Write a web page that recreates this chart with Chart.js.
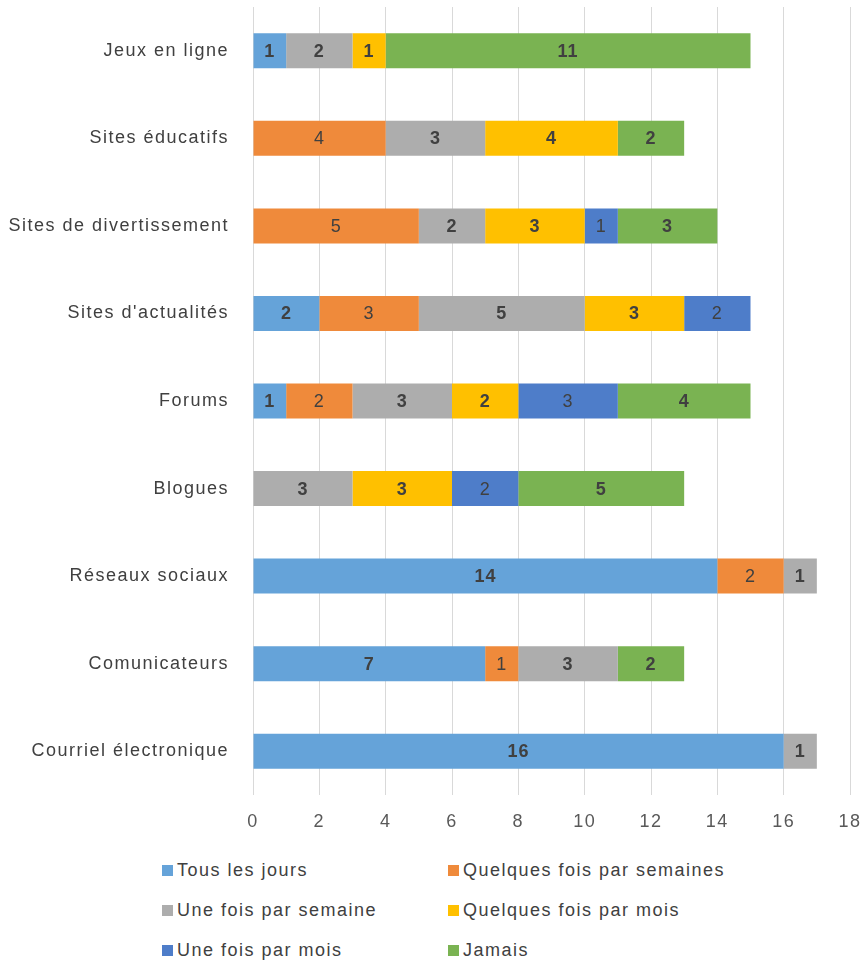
<!DOCTYPE html>
<html lang="fr">
<head>
<meta charset="utf-8">
<title>Utilisation d'Internet</title>
<script src="https://cdn.jsdelivr.net/npm/chart.js@4/dist/chart.umd.min.js"></script>
<style>
  html, body { margin: 0; padding: 0; background: #fff; }
  #wrap { position: relative; width: 862px; height: 960px; }
  #wrap canvas { position: absolute; left: 0; top: 0; }
  .leg {
    position: absolute;
    font: 18px "Liberation Sans", Arial, sans-serif;
    letter-spacing: 1.5px;
    color: #404040;
    line-height: 20px;
    white-space: nowrap;
  }
  .leg span {
    display: inline-block;
    width: 11px; height: 11px;
    margin-right: 4px;
    vertical-align: 0px;
  }
</style>
</head>
<body>
<div id="wrap">
  <canvas id="usage" width="862" height="840"></canvas>
  <div id="legende"></div>
</div>
<script>
const categories = ['Jeux en ligne', 'Sites éducatifs', 'Sites de divertissement', "Sites d'actualités",
  'Forums', 'Blogues', 'Réseaux sociaux', 'Comunicateurs', 'Courriel électronique'];

const tousLesJours        = [1, 0, 0, 2, 1, 0, 14, 7, 16];
const quelquesFoisSemaine = [0, 4, 5, 3, 2, 0, 2, 1, 0];
const uneFoisSemaine      = [2, 3, 2, 5, 3, 3, 1, 3, 1];
const quelquesFoisMois    = [1, 4, 3, 3, 2, 3, 0, 0, 0];
const uneFoisMois         = [0, 0, 1, 2, 3, 2, 0, 0, 0];
const jamais              = [11, 2, 3, 0, 4, 5, 0, 2, 0];

const seriesNames = ['Tous les jours', 'Quelques fois par semaines', 'Une fois par semaine',
  'Quelques fois par mois', 'Une fois par mois', 'Jamais'];
const xMin = 0, xMax = 18, xStep = 2;

const couleurs = ['#65A3D9', '#EF8A3B', '#ADADAD', '#FFC000', '#4E7DC9', '#7AB352'];
const gras = [true, false, true, true, false, true];
const valeurs = [tousLesJours, quelquesFoisSemaine, uneFoisSemaine, quelquesFoisMois, uneFoisMois, jamais];

const police = '"Liberation Sans", Arial, sans-serif';

// espacement des lettres comme dans le rendu d'origine
const espacement = {
  id: 'espacement',
  beforeLayout(chart) { chart.ctx.letterSpacing = '1.5px'; },
  beforeDraw(chart) { chart.ctx.letterSpacing = '1.5px'; }
};

// étiquettes de valeur au centre de chaque segment
const etiquettes = {
  id: 'etiquettes',
  afterDatasetsDraw(chart) {
    const ctx = chart.ctx;
    ctx.save();
    ctx.letterSpacing = '1px';
    ctx.textAlign = 'center';
    ctx.textBaseline = 'middle';
    ctx.fillStyle = '#404040';
    chart.data.datasets.forEach((ds, i) => {
      const meta = chart.getDatasetMeta(i);
      ctx.font = (gras[i] ? 'bold ' : '') + '18px ' + police;
      meta.data.forEach((bar, j) => {
        const v = ds.data[j];
        if (!v) return;
        ctx.fillText(String(v), (bar.x + bar.base) / 2, bar.y + 1);
      });
    });
    ctx.restore();
  }
};

new Chart(document.getElementById('usage'), {
  type: 'bar',
  data: {
    labels: categories,
    datasets: seriesNames.map((nom, i) => ({
      label: nom,
      data: valeurs[i],
      backgroundColor: couleurs[i],
      borderWidth: 0,
      categoryPercentage: 1,
      barPercentage: 0.4
    }))
  },
  options: {
    indexAxis: 'y',
    responsive: false,
    animation: false,
    layout: { padding: { top: 7, right: 12, left: 0, bottom: 0 } },
    plugins: {
      legend: { display: false },
      tooltip: { enabled: false }
    },
    scales: {
      x: {
        stacked: true,
        min: xMin,
        max: xMax,
        ticks: { stepSize: xStep, color: '#595959', font: { family: police, size: 18 }, padding: 16 },
        grid: { color: '#D9D9D9', drawTicks: false },
        border: { display: false },
        afterFit(scale) {
          scale.height = 45;
          scale.paddingLeft = 0;
          scale.paddingRight = 0;
        }
      },
      y: {
        stacked: true,
        ticks: { color: '#404040', font: { family: police, size: 18 }, padding: 16 },
        grid: { display: false },
        border: { display: false },
        afterFit(scale) {
          scale.width = 253;
          scale.paddingTop = 0;
          scale.paddingBottom = 0;
        }
      }
    }
  },
  plugins: [espacement, etiquettes]
});

// légende sur deux colonnes
const legende = document.getElementById('legende');
const colonnes = [162, 448];
const lignes = [860, 900, 940];
seriesNames.forEach((nom, i) => {
  const el = document.createElement('div');
  el.className = 'leg';
  el.style.left = colonnes[i % 2] + 'px';
  el.style.top = lignes[Math.floor(i / 2)] + 'px';
  el.innerHTML = '<span style="background:' + couleurs[i] + '"></span>' + nom;
  legende.appendChild(el);
});
</script>
</body>
</html>
